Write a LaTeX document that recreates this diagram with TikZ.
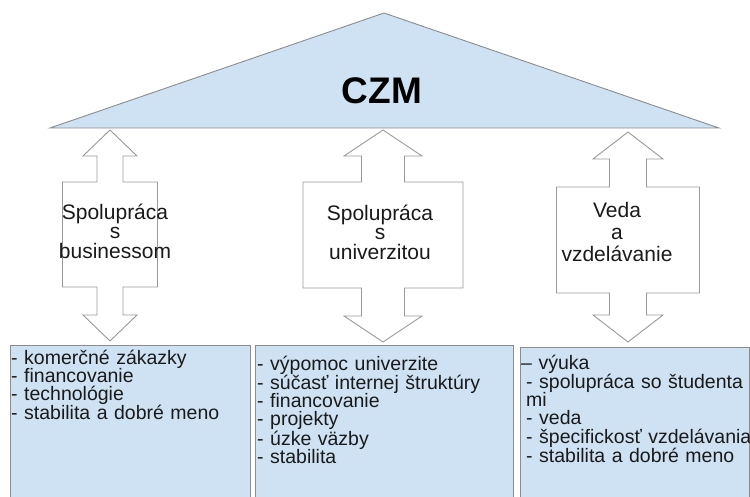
\documentclass[tikz,border=0pt]{standalone}
\usepackage{fontspec}
\setmainfont{Liberation Sans}
\begin{document}
% Double-headed block arrow:
% #1 centre x, #2 top tip, #3 bottom tip, #4 head length,
% #5 body top, #6 body bottom, #7 head half-width, #8 shaft half-width, #9 body half-width
\newcommand\dblarrow[9]{%
  \draw[arrowshape] (#1,#2) -- (#1+#7,#2+#4) -- (#1+#8,#2+#4) -- (#1+#8,#5)
    -- (#1+#9,#5) -- (#1+#9,#6) -- (#1+#8,#6) -- (#1+#8,#3-#4)
    -- (#1+#7,#3-#4) -- (#1,#3) -- (#1-#7,#3-#4) -- (#1-#8,#3-#4)
    -- (#1-#8,#6) -- (#1-#9,#6) -- (#1-#9,#5) -- (#1-#8,#5)
    -- (#1-#8,#2+#4) -- (#1-#7,#2+#4) -- cycle;}
\begin{tikzpicture}[x=1pt,y=-1pt,
  roof/.style={draw=linegray,fill=paleblue,line width=0.9pt,line join=miter},
  arrowshape/.style={draw=arrowgray,fill=white,line width=0.9pt},
  listbox/.style={draw=linegray,fill=paleblue,line width=0.9pt},
  label/.style={align=center,inner sep=0pt,text=textblack,
    font=\fontsize{21}{19.5}\selectfont},
  items/.style={anchor=base west,align=left,inner sep=0pt,text=textblack,
    text width=300pt,font=\fontsize{19.5}{18.2}\selectfont}]
\definecolor{paleblue}{HTML}{CFE2F3}
\definecolor{linegray}{HTML}{8C8C8C}
\definecolor{arrowgray}{HTML}{999999}
\definecolor{textblack}{HTML}{1A1A1A}
\useasboundingbox (0,0) rectangle (750,497);
\clip (0,0) rectangle (750,497);

% roof
\draw[roof] (50,128) -- (384,13) -- (719,128) -- cycle;
\node[font=\bfseries\fontsize{37}{37}\selectfont,text=black] (czm) at (382,91) {CZM};

% block arrows between roof and pillars
\dblarrow{110}{130}{341}{26}{182}{287}{27}{13}{47.5}
\dblarrow{383}{130}{342}{26}{182}{288}{39}{21.5}{80}
\dblarrow{628}{132}{342}{27}{187}{293}{35}{18.5}{71.5}

\node[label] (lab1) at (115,231) {Spolupráca\\s\\businessom};
\node[label] (lab2) at (380,232) {Spolupráca\\s\\univerzitou};
\node[label,font=\fontsize{21}{22}\selectfont] (lab3) at (617,232) {Veda\\a\\vzdelávanie};

% pillars
\draw[listbox] (10,345) rectangle (250,510);
\draw[listbox] (255,345) rectangle (513,510);
\draw[listbox] (520,347) rectangle (749,510);

\node[items] (list1) at (11,364) {- komerčné zákazky\\- financovanie\\- technológie\\- stabilita a dobré meno};
\node[items] (list2) at (257,370) {- výpomoc univerzite\\- súčasť internej štruktúry\\- financovanie\\- projekty\\- úzke väzby\\- stabilita};
\node[items] (list3) at (521,369) {– výuka\\\hspace*{5pt}- spolupráca so študenta\\\hspace*{5pt}mi\\\hspace*{5pt}- veda\\\hspace*{5pt}- špecifickosť vzdelávania\\\hspace*{5pt}- stabilita a dobré meno};
\end{tikzpicture}
\end{document}
